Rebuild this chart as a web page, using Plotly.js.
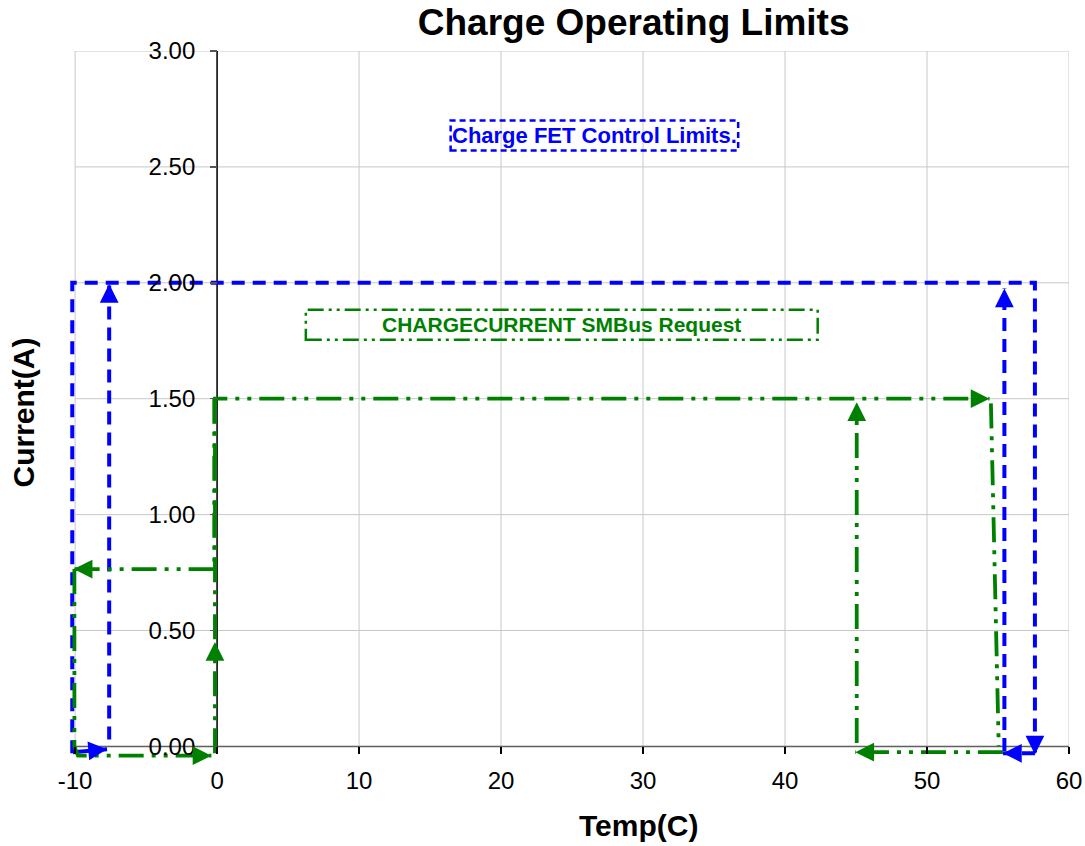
<!DOCTYPE html>
<html>
<head>
<meta charset="utf-8">
<script src="https://cdn.plot.ly/plotly-3.0.1.min.js"></script>
<style>html,body{margin:0;padding:0;background:#fff;}#chart{width:1085px;height:846px;}</style>
</head>
<body>
<div id="chart"></div>
<script>
// ---- Axis ticks ----
const xTicks = [-10, 0, 10, 20, 30, 40, 50, 60];
const yTicks = [0, 0.5, 1.0, 1.5, 2.0, 2.5, 3.0];

// ---- Charge FET Control Limits (blue dashed paths) ----
const blueOuterX = [-10.2, -10.2, 57.6, 57.6];
const blueOuterY = [-0.03, 2.0, 2.0, -0.035];
const blueLowLeftX = [-10.15, -7.75];
const blueLowLeftY = [-0.025, -0.012];
const blueInnerLeftX = [-7.6, -7.6];
const blueInnerLeftY = [0.03, 1.995];
const blueLowRightX = [57.6, 55.35];
const blueLowRightY = [-0.03, -0.03];
const blueInnerRightX = [55.45, 55.45];
const blueInnerRightY = [-0.02, 1.975];

// ---- CHARGECURRENT SMBus Request (green dash-dot paths) ----
const greenMidLeftX = [-0.2, -0.2, -10.1];
const greenMidLeftY = [1.5, 0.765, 0.765];
const greenLeftDownX = [-10.05, -10.05, -9.8, -0.4];
const greenLeftDownY = [0.765, 0.0, -0.04, -0.04];
const greenMainX = [-0.15, -0.15, 54.4];
const greenMainY = [-0.03, 1.5, 1.5];
const greenUpArrowX = [-0.15, -0.15];
const greenUpArrowY = [0.3, 0.45];
const greenRightDownX = [54.5, 55.05];
const greenRightDownY = [1.48, 0.0];
const greenLowRightX = [55.35, 44.95];
const greenLowRightY = [-0.025, -0.025];
const greenRiseX = [45.05, 45.05];
const greenRiseY = [0.015, 1.485];

// ---- Text labels ----
const labelTexts = ["Charge FET Control Limits.", "CHARGECURRENT SMBus Request"];
const labelBoxX0 = [16.45, 6.25];
const labelBoxX1 = [36.7, 42.3];
const labelBoxY0 = [2.571, 1.754];
const labelBoxY1 = [2.700, 1.884];

const BLUE = '#0000FF';
const GREEN = '#008000';
const FONT = 'Liberation Sans, Arial, Helvetica, sans-serif';
const blueDash = '13px,8px';
const greenDash = '25px,8px,4px,8px,4px,8px';

const X_RANGE = [-10.5, 60];
const Y_RANGE = [-0.05, 3];
const PX_PER_X = 1001 / (X_RANGE[1] - X_RANGE[0]);
const PX_PER_Y = 707 / (Y_RANGE[1] - Y_RANGE[0]);

function path(x, y, color, dash, w) {
  return {x: x, y: y, type: 'scatter', mode: 'lines', hoverinfo: 'skip', showlegend: false,
          line: {color: color, width: w, dash: dash}};
}

const traces = [
  path(blueOuterX, blueOuterY, BLUE, blueDash, 4),
  path(blueLowLeftX, blueLowLeftY, BLUE, 'solid', 4),
  path(blueInnerLeftX, blueInnerLeftY, BLUE, blueDash, 4),
  path(blueLowRightX, blueLowRightY, BLUE, blueDash, 4),
  path(blueInnerRightX, blueInnerRightY, BLUE, blueDash, 4),
  path(greenMidLeftX, greenMidLeftY, GREEN, greenDash, 3.8),
  path(greenLeftDownX, greenLeftDownY, GREEN, greenDash, 3.8),
  path(greenMainX, greenMainY, GREEN, greenDash, 3.8),
  path(greenRightDownX, greenRightDownY, GREEN, greenDash, 3.8),
  path(greenLowRightX, greenLowRightY, GREEN, greenDash, 3.8),
  path(greenRiseX, greenRiseY, GREEN, greenDash, 3.8)
];

// arrowhead at the last point of a path, pointing along its last segment
function head(xs, ys, color) {
  const n = xs.length;
  const x = xs[n - 1], y = ys[n - 1];
  const dxp = (x - xs[n - 2]) * PX_PER_X, dyp = (y - ys[n - 2]) * PX_PER_Y;
  const len = Math.hypot(dxp, dyp) || 1;
  const stem = 14;
  return {x: x, y: y, ax: x - dxp / len * stem / PX_PER_X, ay: y - dyp / len * stem / PX_PER_Y,
          xref: 'x', yref: 'y', axref: 'x', ayref: 'y', text: '', showarrow: true,
          arrowhead: 2, arrowsize: 1.25, arrowwidth: 3, arrowcolor: color, standoff: 0};
}

const annotations = [
  head(blueOuterX, blueOuterY, BLUE),
  head(blueLowLeftX, blueLowLeftY, BLUE),
  head(blueInnerLeftX, blueInnerLeftY, BLUE),
  head(blueLowRightX, blueLowRightY, BLUE),
  head(blueInnerRightX, blueInnerRightY, BLUE),
  head(greenMidLeftX, greenMidLeftY, GREEN),
  head(greenLeftDownX, greenLeftDownY, GREEN),
  head(greenMainX, greenMainY, GREEN),
  head(greenUpArrowX, greenUpArrowY, GREEN),
  head(greenLowRightX, greenLowRightY, GREEN),
  head(greenRiseX, greenRiseY, GREEN),
  {x: (labelBoxX0[0] + labelBoxX1[0]) / 2, y: (labelBoxY0[0] + labelBoxY1[0]) / 2, xref: 'x', yref: 'y',
   text: '<b>' + labelTexts[0] + '</b>', showarrow: false, font: {family: FONT, size: 22, color: BLUE}},
  {x: (labelBoxX0[1] + labelBoxX1[1]) / 2, y: (labelBoxY0[1] + labelBoxY1[1]) / 2, xref: 'x', yref: 'y',
   text: '<b>' + labelTexts[1] + '</b>', showarrow: false, font: {family: FONT, size: 21, color: GREEN}},
  {x: -0.0444, y: 0.488, xref: 'paper', yref: 'paper', xanchor: 'center', yanchor: 'middle',
   text: '<b>Current(A)</b>', textangle: -90,
   showarrow: false, font: {family: FONT, size: 30, color: '#000'}},
  {x: 0.5703, y: -0.096, xref: 'paper', yref: 'paper', xanchor: 'center', yanchor: 'middle',
   text: '<b>Temp(C)</b>', showarrow: false,
   font: {family: FONT, size: 30, color: '#000'}}
];

const shapes = [];
// gridlines inside the -10..60 x 0..3 frame
xTicks.forEach(v => shapes.push({type: 'line', layer: 'below', xref: 'x', yref: 'y', x0: v, x1: v, y0: 0, y1: 3,
  line: {color: '#c8c8c8', width: 1}}));
yTicks.forEach(v => shapes.push({type: 'line', layer: 'below', xref: 'x', yref: 'y', x0: xTicks[0], x1: xTicks[xTicks.length - 1], y0: v, y1: v,
  line: {color: '#c8c8c8', width: 1}}));
// axis lines
shapes.push({type: 'line', layer: 'below', xref: 'x', yref: 'y', x0: xTicks[0], x1: xTicks[xTicks.length - 1], y0: 0, y1: 0,
  line: {color: '#606060', width: 1.5}});
shapes.push({type: 'line', layer: 'below', xref: 'x', yref: 'y', x0: 0, x1: 0, y0: 0, y1: yTicks[yTicks.length - 1],
  line: {color: '#000', width: 1.5}});
// label boxes
shapes.push({type: 'rect', xref: 'x', yref: 'y', x0: labelBoxX0[0], x1: labelBoxX1[0], y0: labelBoxY0[0], y1: labelBoxY1[0],
   line: {color: BLUE, width: 2.5, dash: '6px,4px'}});
shapes.push({type: 'rect', xref: 'x', yref: 'y', x0: labelBoxX0[1], x1: labelBoxX1[1], y0: labelBoxY0[1], y1: labelBoxY1[1],
   line: {color: GREEN, width: 2.5, dash: '16px,5px,3px,5px,3px,5px'}});

const layout = {
  width: 1085, height: 846,
  margin: {l: 68, r: 16, t: 51, b: 88, pad: 0},
  paper_bgcolor: '#fff', plot_bgcolor: '#fff',
  font: {family: FONT, color: '#000'},
  title: {text: '<b>Charge Operating Limits</b>', font: {family: FONT, size: 37, color: '#000'},
          x: 0.584, xref: 'container', xanchor: 'center', y: 0.974, yref: 'container', yanchor: 'middle'},
  showlegend: false,
  xaxis: {range: X_RANGE, tickvals: xTicks, ticktext: xTicks.map(String), showgrid: false,
          zeroline: false, showline: false, ticks: 'outside', ticklen: 7,
          tickcolor: '#000', tickwidth: 1.5, tickfont: {family: FONT, size: 24, color: '#000'}, ticklabelstandoff: 6,
          anchor: 'free', position: (0 - Y_RANGE[0]) / (Y_RANGE[1] - Y_RANGE[0]), fixedrange: true},
  yaxis: {range: Y_RANGE, tickvals: yTicks, ticktext: yTicks.map(v => v.toFixed(2)), showgrid: false,
          zeroline: false, showline: false, ticks: 'outside', ticklen: 7,
          tickcolor: '#555', tickwidth: 1.5, tickfont: {family: FONT, size: 24, color: '#000'},
          anchor: 'free', position: (0 - X_RANGE[0]) / (X_RANGE[1] - X_RANGE[0]), ticklabelstandoff: 10, fixedrange: true},
  annotations: annotations,
  shapes: shapes
};

Plotly.newPlot('chart', traces, layout, {displayModeBar: false, staticPlot: true});
</script>
</body>
</html>
